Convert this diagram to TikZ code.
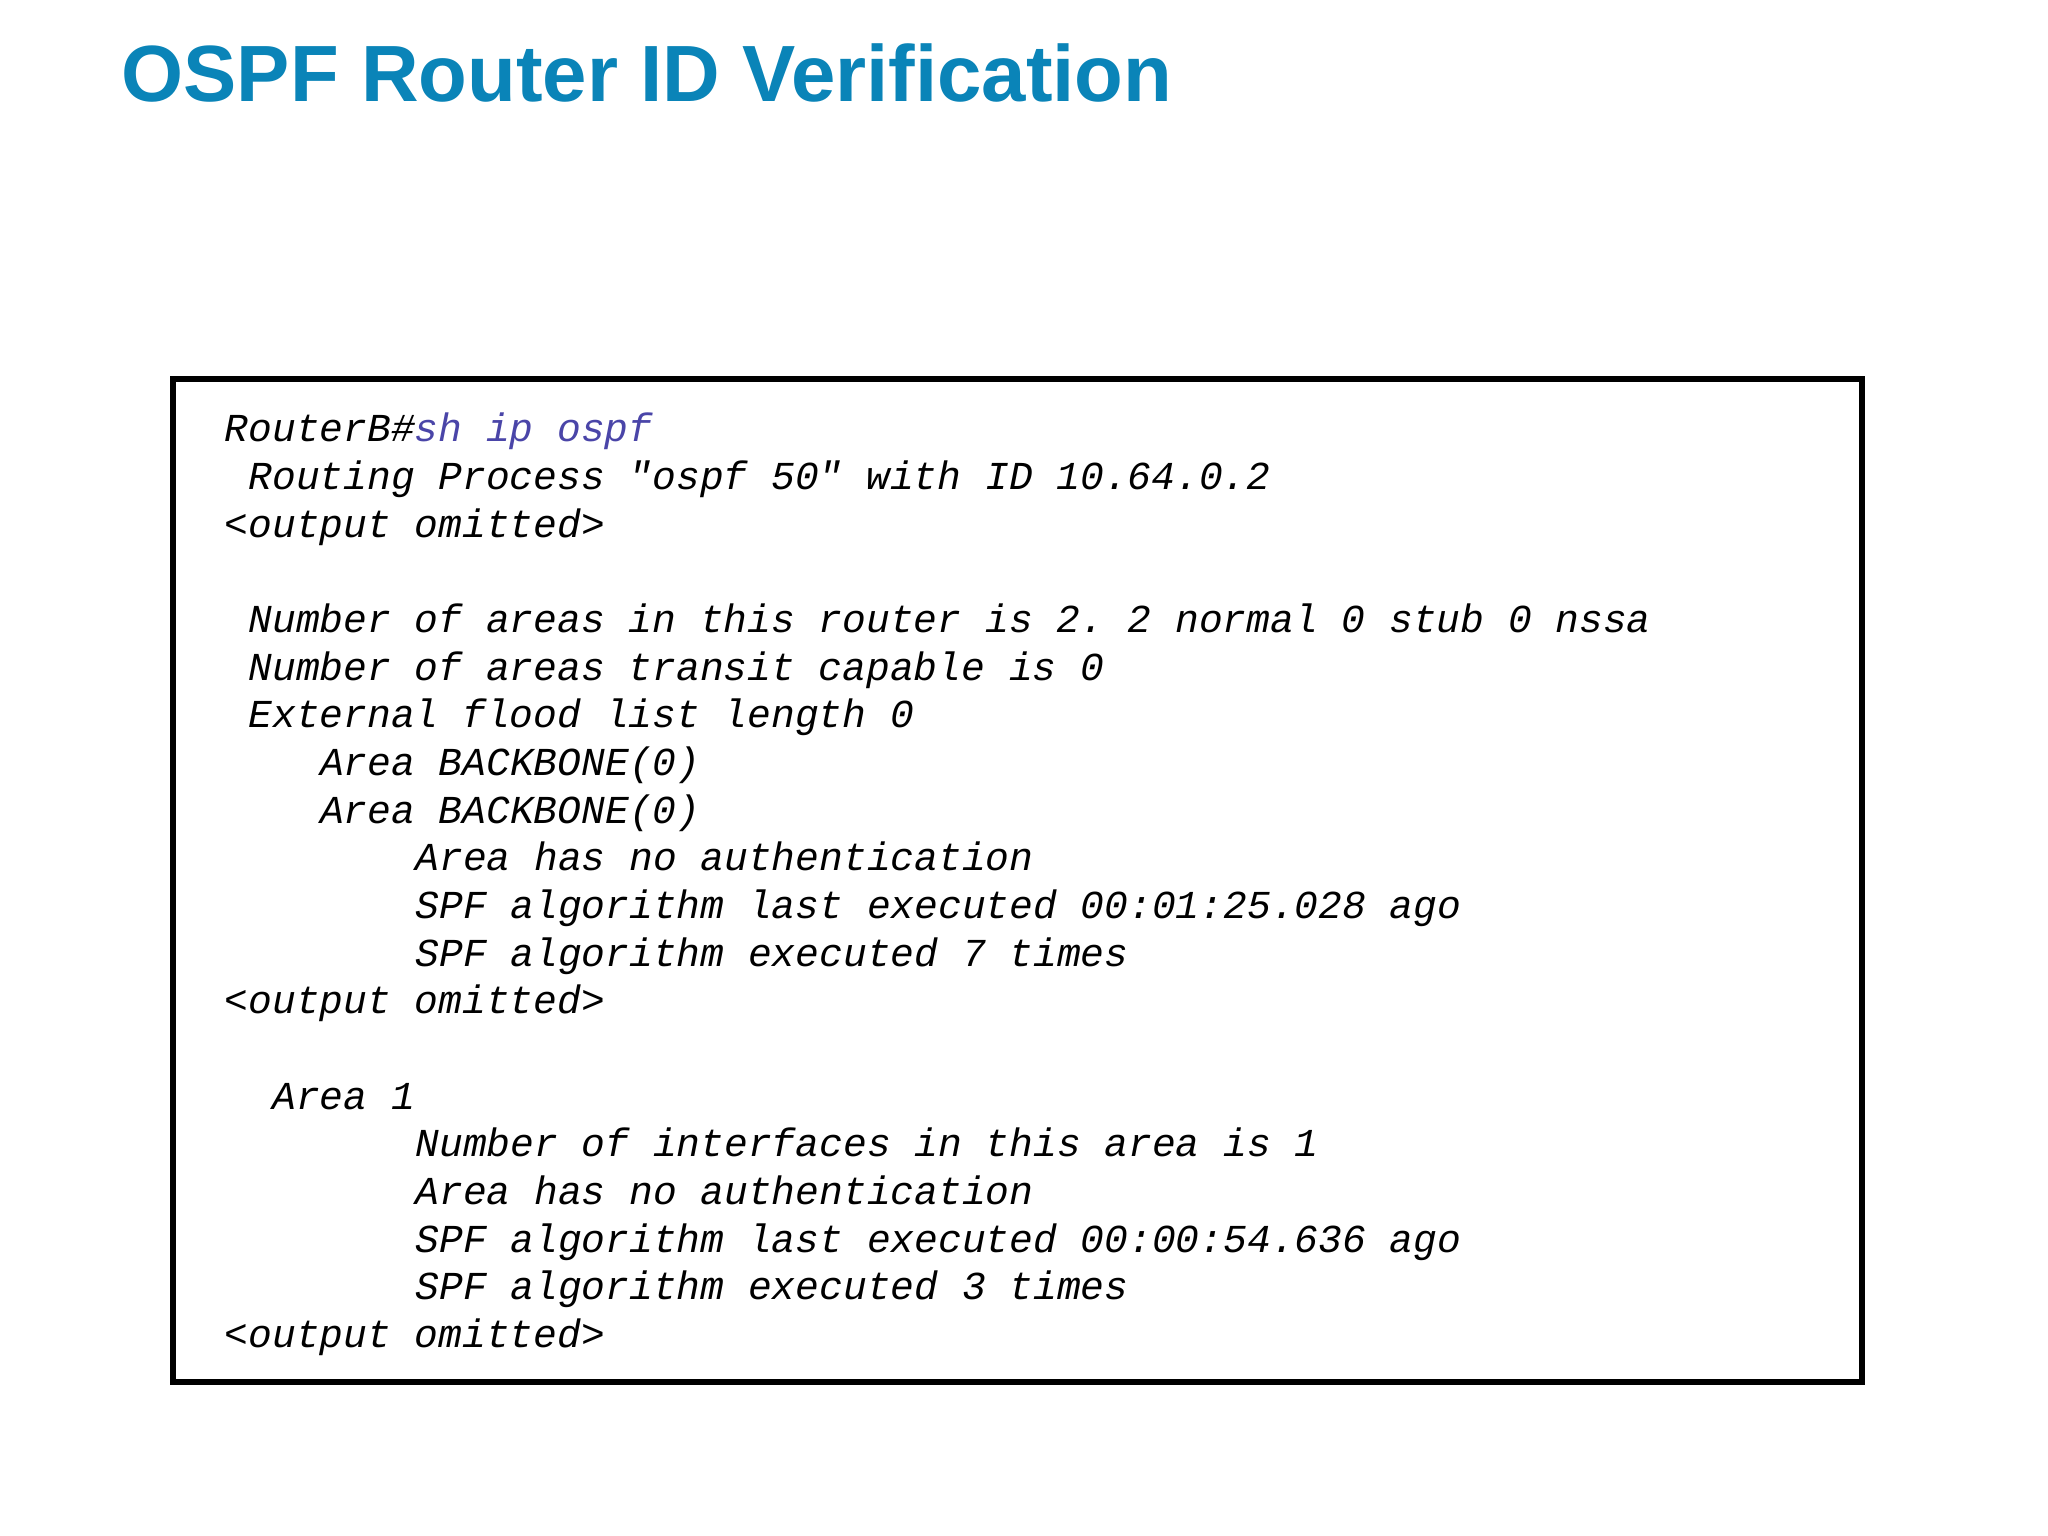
\documentclass[tikz,border=0pt]{standalone}
\usepackage{fontspec}
\setmainfont{Liberation Sans}
\setmonofont{Liberation Mono}
\definecolor{titleblue}{HTML}{0A84B8}
\definecolor{cmdblue}{HTML}{4A45A8}
\newcommand{\codeline}[4]{\node[code] (#1) at ({2.24+#3*0.2385},{-4.42-#2*0.4766}) {#4};}
\begin{document}
\begin{tikzpicture}[code/.style={anchor=base west,inner sep=0pt,font=\fontsize{11.27pt}{13pt}\ttfamily\itshape}]
\useasboundingbox (0,0) rectangle (20.48,-15.36);
\fill[white] (0,0) rectangle (20.48,-15.36);
\node[anchor=base west,inner sep=0pt,text=titleblue,font=\fontsize{22.7pt}{27pt}\selectfont\bfseries] (title) at (1.21,-1.02) {OSPF Router ID Verification};
\draw[line width=0.55mm] (1.73,-3.79) rectangle (18.62,-13.82);
\codeline{l0}{0}{0}{RouterB\#\textcolor{cmdblue}{sh ip ospf}}
\codeline{l1}{1}{1}{Routing Process "ospf 50" with ID 10.64.0.2}
\codeline{l2}{2}{0}{<output omitted>}
\codeline{l4}{4}{1}{Number of areas in this router is 2. 2 normal 0 stub 0 nssa}
\codeline{l5}{5}{1}{Number of areas transit capable is 0}
\codeline{l6}{6}{1}{External flood list length 0}
\codeline{l7}{7}{4}{Area BACKBONE(0)}
\codeline{l8}{8}{4}{Area BACKBONE(0)}
\codeline{l9}{9}{8}{Area has no authentication}
\codeline{l10}{10}{8}{SPF algorithm last executed 00:01:25.028 ago}
\codeline{l11}{11}{8}{SPF algorithm executed 7 times}
\codeline{l12}{12}{0}{<output omitted>}
\codeline{l14}{14}{2}{Area 1}
\codeline{l15}{15}{8}{Number of interfaces in this area is 1}
\codeline{l16}{16}{8}{Area has no authentication}
\codeline{l17}{17}{8}{SPF algorithm last executed 00:00:54.636 ago}
\codeline{l18}{18}{8}{SPF algorithm executed 3 times}
\codeline{l19}{19}{0}{<output omitted>}
\end{tikzpicture}
\end{document}
